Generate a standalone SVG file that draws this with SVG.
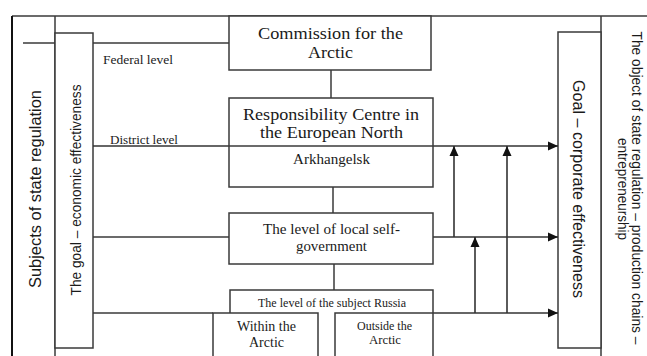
<svg xmlns="http://www.w3.org/2000/svg" width="647" height="356" viewBox="0 0 647 356">
<defs>
<marker id="arr" markerUnits="userSpaceOnUse" markerWidth="10" markerHeight="10" viewBox="0 0 10 10" refX="10" refY="5" orient="auto">
<path d="M0,0.5 L10,5 L0,9.5 Z" fill="#111"/>
</marker>
<style>
.ln{stroke:#3a3a3a;stroke-width:1.5;fill:none}
.bx{stroke:#3a3a3a;stroke-width:1.5;fill:#fff}
.ar{stroke:#333;stroke-width:1.6;fill:none;marker-end:url(#arr)}
.sr{font-family:"Liberation Serif","Times New Roman",serif;fill:#1a1a1a;text-anchor:middle}
.ss{font-family:"Liberation Sans",Arial,sans-serif;fill:#1a1a1a;text-anchor:middle}
</style>
</defs>
<rect width="647" height="356" fill="#fff"/>

<g id="frame">
<line class="ln" x1="12" y1="16" x2="647" y2="16"/>
<line x1="12" y1="16" x2="12" y2="356" stroke="#111" stroke-width="2"/>
<line class="ln" x1="55" y1="16" x2="55" y2="356"/>
<line class="ln" x1="23" y1="43" x2="55" y2="43"/>
<line class="ln" x1="601" y1="16" x2="601" y2="356"/>
</g>

<g id="subjects">
<text class="ss" transform="translate(41,189) rotate(-90)" font-size="16.5" textLength="198" lengthAdjust="spacingAndGlyphs">Subjects of state regulation</text>
</g>

<g id="goal-economic">
<rect class="bx" x="55" y="33" width="38" height="315"/>
<text class="ss" transform="translate(81,190) rotate(-90)" font-size="15" textLength="211" lengthAdjust="spacingAndGlyphs">The goal – economic effectiveness</text>
</g>

<g id="goal-corporate">
<rect class="bx" x="558" y="32" width="43" height="316"/>
<text class="ss" transform="translate(573,189) rotate(90)" font-size="16" textLength="218" lengthAdjust="spacingAndGlyphs">Goal – corporate effectiveness</text>
</g>

<g id="object">
<text class="ss" transform="translate(632,188) rotate(90)" font-size="14" textLength="313" lengthAdjust="spacingAndGlyphs">The object of state regulation – production chains –</text>
<text class="ss" transform="translate(618,189) rotate(90)" font-size="14" textLength="102" lengthAdjust="spacingAndGlyphs">entrepreneurship</text>
</g>

<g id="connectors">
<line class="ln" x1="93" y1="43" x2="229" y2="43"/>
<line class="ln" x1="331" y1="70" x2="331" y2="98"/>
<line class="ln" x1="333" y1="187" x2="333" y2="213"/>
<line class="ln" x1="334" y1="264" x2="334" y2="290"/>
<line class="ln" x1="93" y1="237" x2="229" y2="237"/>
<line class="ln" x1="93" y1="313" x2="213" y2="313"/>
<line class="ar" x1="93" y1="146" x2="558" y2="146"/>
<line class="ar" x1="433" y1="237" x2="558" y2="237"/>
<line class="ar" x1="433" y1="313" x2="558" y2="313"/>
<line class="ar" x1="454" y1="237" x2="454" y2="146"/>
<line class="ar" x1="507" y1="313" x2="507" y2="146"/>
<line class="ar" x1="475" y1="313" x2="475" y2="237"/>
</g>

<g id="federal-label">
<text class="sr" x="138" y="64" font-size="13" textLength="70" lengthAdjust="spacingAndGlyphs">Federal level</text>
</g>
<g id="district-label">
<text class="sr" x="144" y="144" font-size="13" textLength="68" lengthAdjust="spacingAndGlyphs">District level</text>
</g>

<g id="commission">
<rect class="bx" x="229" y="16" width="202" height="54"/>
<text class="sr" x="330.5" y="39" font-size="17" textLength="145" lengthAdjust="spacingAndGlyphs">Commission for the</text>
<text class="sr" x="330.5" y="58" font-size="17" textLength="45" lengthAdjust="spacingAndGlyphs">Arctic</text>
</g>

<g id="responsibility">
<rect class="bx" x="229" y="98" width="204" height="89"/>
<line class="ln" x1="229" y1="146" x2="433" y2="146"/>
<text class="sr" x="331" y="120" font-size="17" textLength="176" lengthAdjust="spacingAndGlyphs">Responsibility Centre in</text>
<text class="sr" x="331.5" y="138" font-size="17" textLength="143" lengthAdjust="spacingAndGlyphs">the European North</text>
<text class="sr" x="331.5" y="164" font-size="14" textLength="77" lengthAdjust="spacingAndGlyphs">Arkhangelsk</text>
</g>

<g id="local">
<rect class="bx" x="229" y="213" width="204" height="51"/>
<text class="sr" x="331.5" y="234" font-size="15" textLength="137" lengthAdjust="spacingAndGlyphs">The level of local self-</text>
<text class="sr" x="331.5" y="251" font-size="15" textLength="71" lengthAdjust="spacingAndGlyphs">government</text>
</g>

<g id="subject-russia">
<polyline class="ln" points="230,313 230,290 433,290 433,356"/>
<text class="sr" x="332" y="307" font-size="13" textLength="148" lengthAdjust="spacingAndGlyphs">The level of the subject Russia</text>
</g>

<g id="within">
<polyline class="ln" points="213,356 213,313 318,313 318,356"/>
<text class="sr" x="266.5" y="331" font-size="14" textLength="59" lengthAdjust="spacingAndGlyphs">Within the</text>
<text class="sr" x="266.5" y="347" font-size="14" textLength="35" lengthAdjust="spacingAndGlyphs">Arctic</text>
</g>

<g id="outside">
<polyline class="ln" points="335,356 335,313 433,313"/>
<text class="sr" x="384.5" y="330" font-size="12.5" textLength="55" lengthAdjust="spacingAndGlyphs">Outside the</text>
<text class="sr" x="385" y="344" font-size="12.5" textLength="32" lengthAdjust="spacingAndGlyphs">Arctic</text>
</g>
</svg>
